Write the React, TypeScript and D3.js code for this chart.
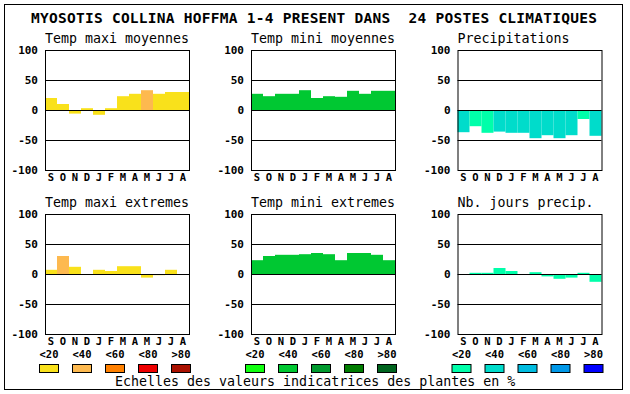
import React from "react";
import * as d3 from "d3";

const title = "MYOSOTIS COLLINA HOFFMA 1-4 PRESENT DANS  24 POSTES CLIMATIQUES";
const months = ["Se", "Oc", "No", "De", "Ja", "Fe", "Mr", "Av", "Ma", "Jn", "Jl", "Au"];
const monthLabels = ["S", "O", "N", "D", "J", "F", "M", "A", "M", "J", "J", "A"];
const yTicks = [100, 50, 0, -50, -100];
const gridTicks = [50, 0, -50];
const legendLabels = ["<20", "<40", "<60", "<80", ">80"];
const footer = "Echelles des valeurs indicatrices des plantes en %";

const warmPalette = ["#F9E11B", "#FDB94F", "#FF8000", "#EE0000", "#AA1100"];
const greenPalette = ["#10FF10", "#00C832", "#009A2E", "#007C00", "#00641E"];
const bluePalette = ["#00FFAA", "#00DCCB", "#00BCE0", "#0098E8", "#0000FF"];

const titles = [
  "Temp maxi moyennes",
  "Temp mini moyennes",
  "Precipitations",
  "Temp maxi extremes",
  "Temp mini extremes",
  "Nb. jours precip.",
];

const tmaxMoy = [20, 10, -6, 3, -8, 3, 23, 27, 33, 27, 30, 30];
const tmaxMoyCls = [0, 0, 0, 0, 0, 0, 0, 0, 1, 0, 0, 0];
const tminMoy = [27, 23, 27, 27, 33, 20, 23, 22, 32, 27, 32, 32];
const tminMoyCls = [1, 1, 1, 1, 1, 1, 1, 1, 1, 1, 1, 1];
const precip = [-37, -27, -38, -36, -38, -38, -47, -42, -47, -42, -15, -43];
const precipCls = [1, 0, 0, 1, 1, 1, 1, 1, 1, 1, 0, 1];
const tmaxExt = [7, 30, 12, 0, 7, 5, 13, 13, -6, -2, 7, 0];
const tmaxExtCls = [0, 1, 0, 0, 0, 0, 0, 0, 0, 0, 0, 0];
const tminExt = [23, 30, 32, 32, 33, 35, 33, 23, 35, 35, 32, 23];
const tminExtCls = [1, 1, 1, 1, 1, 1, 1, 1, 1, 1, 1, 1];
const nbJours = [0, 2, 2, 10, 5, 0, 3, -4, -8, -6, 2, -13];
const nbJoursCls = [0, 0, 0, 0, 0, 0, 0, 0, 0, 0, 0, 0];

const panels = [
  { values: tmaxMoy, cls: tmaxMoyCls, palette: warmPalette },
  { values: tminMoy, cls: tminMoyCls, palette: greenPalette },
  { values: precip, cls: precipCls, palette: bluePalette },
  { values: tmaxExt, cls: tmaxExtCls, palette: warmPalette },
  { values: tminExt, cls: tminExtCls, palette: greenPalette },
  { values: nbJours, cls: nbJoursCls, palette: bluePalette },
];

const W = 630;
const H = 394;
const mono = "'DejaVu Sans Mono', 'Liberation Mono', monospace";
const colLefts = [45, 251, 457.5];
const rowTops = [50, 214];
const PW = 144;
const PH = 120;

function Panel({ idx }: { idx: number }) {
  const p = panels[idx];
  const left = colLefts[idx % 3];
  const top = rowTops[Math.floor(idx / 3)];
  const x = d3.scaleBand<string>().domain(months).range([left, left + PW]).padding(0);
  const y = d3.scaleLinear().domain([-100, 100]).range([top + PH, top]);
  return (
    <g>
      <text x={left} y={top - 7} fontFamily={mono} fontSize={13.3} fill="#000">
        {titles[idx]}
      </text>
      {p.values.map((v, i) => {
        const y0 = y(0);
        const y1 = y(v);
        return (
          <rect
            key={i}
            x={x(months[i])!}
            width={x.bandwidth()}
            y={Math.min(y0, y1)}
            height={Math.abs(y1 - y0)}
            fill={p.palette[p.cls[i]]}
          />
        );
      })}
      {gridTicks.map((t) => (
        <line
          key={t}
          x1={left}
          x2={left + PW}
          y1={Math.round(y(t)) + 0.5}
          y2={Math.round(y(t)) + 0.5}
          stroke="#000"
          strokeWidth={1}
        />
      ))}
      <rect x={left + 0.5} y={top + 0.5} width={PW} height={PH} fill="none" stroke="#000" strokeWidth={1} />
      {yTicks.map((t) => (
        <text
          key={t}
          x={left - 7}
          y={y(t)}
          dy="0.36em"
          textAnchor="end"
          fontFamily={mono}
          fontWeight="bold"
          fontSize={11}
          fill="#000"
        >
          {t}
        </text>
      ))}
      {months.map((m, i) => (
        <text
          key={m}
          x={x(m)! + x.bandwidth() / 2}
          y={top + PH + 10.5}
          textAnchor="middle"
          fontFamily={mono}
          fontWeight="bold"
          fontSize={10.5}
          fill="#000"
        >
          {monthLabels[i]}
        </text>
      ))}
    </g>
  );
}

function Legend({ col }: { col: number }) {
  const left = colLefts[col];
  const palette = [warmPalette, greenPalette, bluePalette][col];
  const lx = d3.scalePoint<string>().domain(legendLabels).range([left - 6, left + 126]);
  return (
    <g>
      {legendLabels.map((l, i) => (
        <g key={l}>
          <text
            x={lx(l)! + 10}
            y={358}
            textAnchor="middle"
            fontFamily={mono}
            fontWeight="bold"
            fontSize={10.5}
            fill="#000"
          >
            {l}
          </text>
          <rect x={lx(l)! + 0.5} y={364.5} width={19} height={8} fill={palette[i]} stroke="#000" strokeWidth={1} />
        </g>
      ))}
    </g>
  );
}

export default function App() {
  return (
    <svg
      width={W}
      height={H}
      style={{ position: "absolute", left: 0, top: 0, background: "#fff" }}
    >
      <rect x={0} y={0} width={W} height={H} fill="#fff" />
      <rect x={4.5} y={4.5} width={618} height={385} fill="none" stroke="#000" strokeWidth={1} />
      <text
        x={31}
        y={23}
        fontFamily={mono}
        fontSize={14.5}
        fontWeight="bold"
        textLength={566}
        style={{ whiteSpace: "pre" }}
        fill="#000"
      >
        {title}
      </text>
      {panels.map((_, i) => (
        <Panel key={i} idx={i} />
      ))}
      {[0, 1, 2].map((c) => (
        <Legend key={c} col={c} />
      ))}
      <text x={115} y={386} fontFamily={mono} fontSize={13.3} fill="#000">
        {footer}
      </text>
    </svg>
  );
}
